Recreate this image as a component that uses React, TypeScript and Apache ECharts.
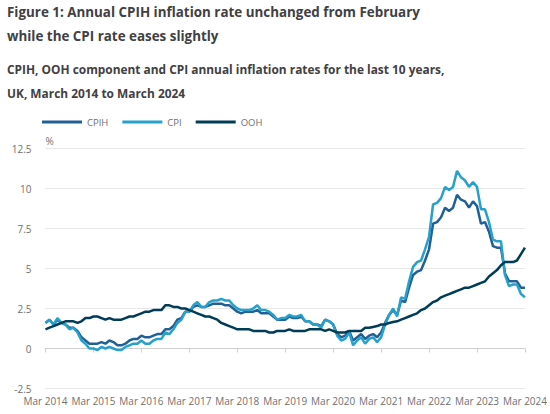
import React, { useEffect, useRef } from "react";
import * as echarts from "echarts";

const titleLines = [
  "Figure 1: Annual CPIH inflation rate unchanged from February",
  "while the CPI rate eases slightly",
];
const subtitleLines = [
  "CPIH, OOH component and CPI annual inflation rates for the last 10 years,",
  "UK, March 2014 to March 2024",
];

const monthNames = ["Jan", "Feb", "Mar", "Apr", "May", "Jun", "Jul", "Aug", "Sep", "Oct", "Nov", "Dec"];
const startYear = 2014;
const startMonth = 2; // March
const monthCount = 121;
const categories: string[] = [];
for (let i = 0; i < monthCount; i++) {
  const m = (startMonth + i) % 12;
  const y = startYear + Math.floor((startMonth + i) / 12);
  categories.push(`${monthNames[m]} ${y}`);
}

const cpih = [
  1.6, 1.8, 1.5, 1.8, 1.6, 1.5, 1.3, 1.3, 1.1, 0.7,
  0.5, 0.3, 0.3, 0.3, 0.4, 0.3, 0.5, 0.4, 0.2, 0.2, 0.3, 0.5,
  0.6, 0.6, 0.8, 0.7, 0.7, 0.8, 0.9, 0.9, 1.2, 1.2, 1.4, 1.8,
  1.9, 2.3, 2.3, 2.6, 2.7, 2.6, 2.6, 2.7, 2.8, 2.8, 2.8, 2.7,
  2.7, 2.5, 2.3, 2.2, 2.3, 2.3, 2.3, 2.4, 2.2, 2.2, 2.2, 2.0,
  1.8, 1.8, 1.8, 2.0, 1.9, 1.9, 2.0, 1.7, 1.7, 1.5, 1.5, 1.4,
  1.8, 1.7, 1.5, 0.9, 0.7, 0.8, 1.1, 0.5, 0.7, 0.9, 0.6, 0.8,
  0.9, 0.7, 1.0, 1.6, 2.1, 2.4, 2.1, 3.0, 2.9, 3.8, 4.6, 4.8,
  4.9, 5.5, 6.2, 7.8, 7.9, 8.2, 8.8, 8.6, 8.8, 9.6, 9.3, 9.2,
  8.8, 9.2, 8.9, 7.8, 7.9, 7.3, 6.4, 6.3, 6.3, 4.7, 4.2, 4.2,
  4.2, 3.8, 3.8,
];

const cpi = [
  1.6, 1.8, 1.5, 1.9, 1.6, 1.5, 1.2, 1.3, 1.0, 0.5,
  0.3, 0.0, 0.0, -0.1, 0.1, 0.0, 0.1, 0.0, -0.1, -0.1, 0.1, 0.2,
  0.3, 0.3, 0.5, 0.3, 0.3, 0.5, 0.6, 0.6, 1.0, 0.9, 1.2, 1.6,
  1.8, 2.3, 2.3, 2.7, 2.9, 2.6, 2.6, 2.9, 3.0, 3.0, 3.1, 3.0,
  3.0, 2.7, 2.5, 2.4, 2.4, 2.4, 2.5, 2.7, 2.4, 2.4, 2.3, 2.1,
  1.8, 1.9, 1.9, 2.1, 2.0, 2.0, 2.1, 1.7, 1.7, 1.5, 1.5, 1.3,
  1.8, 1.7, 1.5, 0.8, 0.5, 0.6, 1.0, 0.2, 0.5, 0.7, 0.3, 0.6,
  0.7, 0.4, 0.7, 1.5, 2.1, 2.5, 2.0, 3.2, 3.1, 4.2, 5.1, 5.4,
  5.5, 6.2, 7.0, 9.0, 9.1, 9.4, 10.1, 9.9, 10.1, 11.1, 10.7, 10.5,
  10.1, 10.4, 10.1, 8.7, 8.7, 7.9, 6.8, 6.7, 6.7, 4.6, 3.9, 4.0,
  4.0, 3.4, 3.2,
];

const ooh = [
  1.2, 1.3, 1.4, 1.5, 1.6, 1.7, 1.7, 1.7, 1.6, 1.7,
  1.9, 1.9, 2.0, 2.0, 1.9, 1.8, 1.9, 1.8, 1.8, 1.8, 1.9, 2.0,
  2.0, 2.1, 2.2, 2.3, 2.3, 2.4, 2.4, 2.4, 2.7, 2.7, 2.6, 2.6,
  2.5, 2.5, 2.4, 2.3, 2.2, 2.1, 2.0, 2.0, 1.9, 1.8, 1.6, 1.5,
  1.4, 1.3, 1.2, 1.2, 1.2, 1.2, 1.1, 1.1, 1.1, 1.1, 1.0, 1.0,
  1.1, 1.1, 1.1, 1.2, 1.1, 1.1, 1.1, 1.1, 1.2, 1.2, 1.2, 1.2,
  1.1, 1.2, 1.1, 1.0, 1.0, 1.0, 1.1, 1.1, 1.1, 1.1, 1.3, 1.3,
  1.35, 1.4, 1.5, 1.5, 1.6, 1.65, 1.7, 1.8, 1.9, 2.0, 2.1, 2.2,
  2.4, 2.5, 2.7, 2.9, 3.0, 3.2, 3.3, 3.4, 3.5, 3.6, 3.7, 3.8,
  3.8, 3.9, 4.0, 4.1, 4.2, 4.5, 4.7, 4.9, 5.2, 5.4, 5.4, 5.4,
  5.5, 5.9, 6.3,
];

const seriesNames = ["CPIH", "CPI", "OOH"];
const seriesColors = ["#206095", "#27a0cc", "#003c57"];
const yTicks = { min: -2.5, max: 12.5, interval: 2.5 };

const FONT = "'Open Sans', 'Noto Sans', sans-serif";

export default function App() {
  const ref = useRef<HTMLDivElement>(null);
  useEffect(() => {
    if (!ref.current) return;
    const chart = echarts.init(ref.current, undefined, { renderer: "svg" });
    const data = [cpih, cpi, ooh];
    chart.setOption({
      animation: false,
      textStyle: { fontFamily: FONT },
      title: [
        {
          text: titleLines.join("\n"),
          left: 7,
          top: 0,
          padding: 0,
          textStyle: { fontFamily: FONT, fontSize: 13.4, fontWeight: "bold", color: "#414042", lineHeight: 24 },
        },
        {
          text: subtitleLines.join("\n"),
          left: 7,
          top: 57,
          padding: 0,
          textStyle: { fontFamily: FONT, fontSize: 11.9, fontWeight: "bold", color: "#414042", lineHeight: 24 },
        },
      ],
      legend: {
        left: 42,
        top: 117,
        padding: 0,
        icon: "rect",
        itemWidth: 40,
        itemHeight: 3,
        itemGap: 14,
        textStyle: { fontFamily: FONT, fontSize: 9.5, color: "#707070" },
        data: seriesNames,
      },
      grid: { left: 45.5, right: 25, top: 148.5, bottom: 25.5, containLabel: false },
      xAxis: {
        type: "category",
        data: categories,
        boundaryGap: false,
        axisLine: { lineStyle: { color: "#cfcfcf", width: 1 } },
        axisTick: { interval: 11, length: 4, lineStyle: { color: "#cfcfcf" } },
        axisLabel: { interval: 11, color: "#707070", fontSize: 10, lineHeight: 10, margin: 7, fontFamily: FONT },
        splitLine: { show: false },
      },
      yAxis: {
        type: "value",
        min: yTicks.min,
        max: yTicks.max,
        interval: yTicks.interval,
        name: "%",
        nameGap: 3,
        nameTextStyle: { align: "left", color: "#707070", fontSize: 10, fontFamily: FONT },
        axisLine: { show: false },
        axisTick: { show: false },
        axisLabel: { color: "#707070", fontSize: 10, lineHeight: 10, margin: 14, fontFamily: FONT },
        splitLine: { lineStyle: { color: "#e8e8e8", width: 1 } },
      },
      series: seriesNames.map((name, i) => ({
        name,
        type: "line",
        data: data[i],
        symbol: "none",
        smooth: false,
        color: seriesColors[i],
        lineStyle: { width: 2.5, color: seriesColors[i] },
        z: 2 + i,
      })),
    });
    return () => chart.dispose();
  }, []);
  return (
    <div
      ref={ref}
      style={{ position: "absolute", left: 0, top: 0, width: 550, height: 414, background: "#ffffff" }}
    />
  );
}
